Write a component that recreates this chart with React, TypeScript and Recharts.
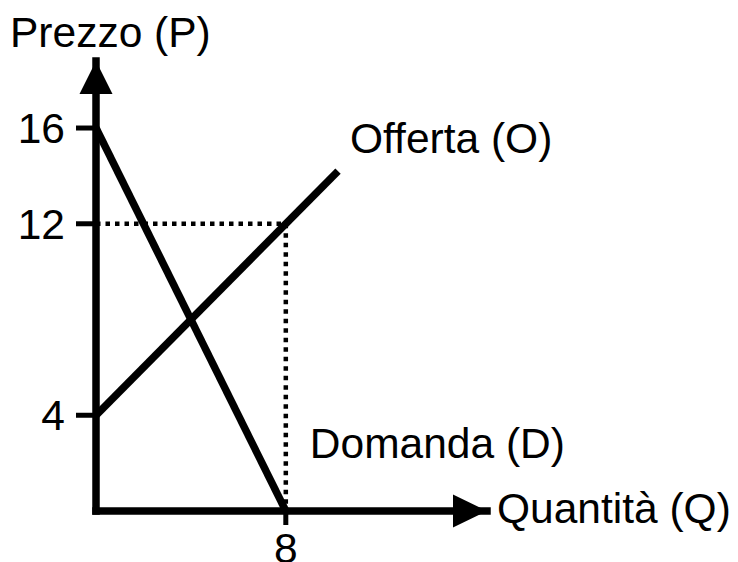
import { ComposedChart, Line, XAxis, YAxis, ReferenceLine, ReferenceDot } from 'recharts';

// Offerta: P = 4 + Q, Domanda: P = 16 - 2Q
const supply = [
  { q: 0, p: 4 },
  { q: 10.2, p: 14.2 },
];
const demand = [
  { q: 0, p: 16 },
  { q: 8, p: 0 },
];
const xTicks = [8];
const yTicks = [4, 12, 16];
const xMax = 16.48;
const yMax = 18.8;
const equilibrium = { q: 8, p: 12 };

const FONT = '"Liberation Sans", Arial, Helvetica, sans-serif';
const FS = 42.5;

const label = (text: string, dx: number, dy: number) => (props: any) => (
  <text x={props.cx + dx} y={props.cy + dy} fontSize={FS} fontFamily={FONT} fill="#000">
    {text}
  </text>
);

const upArrow = (props: any) => (
  <polygon
    points={`${props.cx},${props.cy} ${props.cx - 16.5},${props.cy + 33} ${props.cx + 16.5},${props.cy + 33}`}
    fill="#000"
  />
);

const rightArrow = (props: any) => (
  <polygon
    points={`${props.cx},${props.cy} ${props.cx - 34},${props.cy - 16.5} ${props.cx - 34},${props.cy + 16.5}`}
    fill="#000"
  />
);

const App = () => {
  const tick = { fontSize: FS, fontFamily: FONT, fill: '#000' };
  return (
    <div style={{ position: 'absolute', left: 0, top: 0, background: '#fff' }}>
      <ComposedChart width={738} height={562} margin={{ top: 61, right: 251, left: 0, bottom: 0 }}>
        <XAxis
          type="number"
          dataKey="q"
          domain={[0, xMax]}
          allowDataOverflow
          ticks={xTicks}
          height={51}
          axisLine={{ stroke: '#000', strokeWidth: 7.5, strokeLinecap: 'square' }}
          tickLine={{ stroke: '#000', strokeWidth: 5 }}
          tickSize={14}
          tickMargin={8}
          tick={tick}
        />
        <YAxis
          type="number"
          dataKey="p"
          domain={[0, yMax]}
          allowDataOverflow
          ticks={yTicks}
          width={96}
          axisLine={{ stroke: '#000', strokeWidth: 7.5, strokeLinecap: 'square' }}
          tickLine={{ stroke: '#000', strokeWidth: 5 }}
          tickSize={20}
          tickMargin={11}
          tick={tick}
        />
        <ReferenceLine
          segment={[{ x: 0, y: equilibrium.p }, { x: equilibrium.q, y: equilibrium.p }]}
          stroke="#000"
          strokeWidth={4.5}
          strokeDasharray="4.5 5"
        />
        <ReferenceLine
          segment={[{ x: equilibrium.q, y: equilibrium.p }, { x: equilibrium.q, y: 0 }]}
          stroke="#000"
          strokeWidth={4.5}
          strokeDasharray="4.5 5"
        />
        <Line
          data={supply}
          dataKey="p"
          type="linear"
          stroke="#000"
          strokeWidth={7.5}
          dot={false}
          activeDot={false}
          isAnimationActive={false}
        />
        <Line
          data={demand}
          dataKey="p"
          type="linear"
          stroke="#000"
          strokeWidth={7.5}
          dot={false}
          activeDot={false}
          isAnimationActive={false}
        />
        <ReferenceDot x={0} y={yMax} r={0} shape={upArrow} />
        <ReferenceDot x={xMax} y={0} r={0} shape={rightArrow} />
        <ReferenceDot x={0} y={yMax} r={0} shape={label('Prezzo (P)', -86, -14)} />
        <ReferenceDot x={xMax} y={0} r={0} shape={label('Quantità (Q)', 10, 12)} />
        <ReferenceDot x={10.2} y={14.2} r={0} shape={label('Offerta (O)', 12, -18)} />
        <ReferenceDot x={8} y={0} r={0} shape={label('Domanda (D)', 24, -53)} />
      </ComposedChart>
    </div>
  );
};

export default App;
